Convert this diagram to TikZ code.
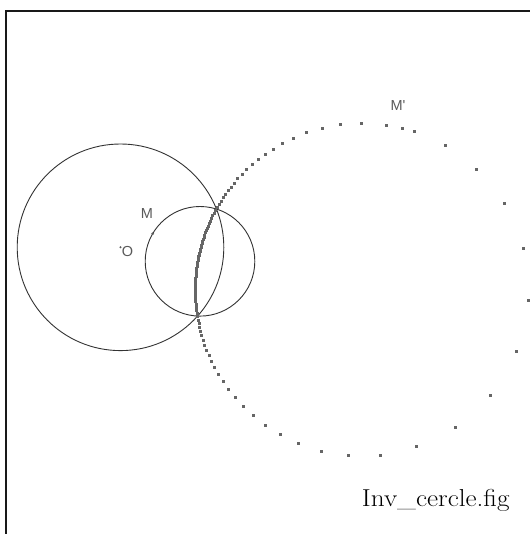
\documentclass[tikz,border=0pt]{standalone}
\usepackage{fontspec}
\newfontfamily\labfont{Liberation Sans}
\begin{document}
\begin{tikzpicture}[x=1pt,y=-1pt]
\definecolor{dotc}{HTML}{666666}
\definecolor{circc}{HTML}{333333}
\definecolor{labc}{HTML}{5A5A5A}
\tikzset{
  frameline/.style={line width=1.4pt, draw=black!90},
  thincircle/.style={line width=0.9pt, draw=circc},
  tracedot/.style={fill=dotc},
  ptlabel/.style={font=\labfont\fontsize{14.5}{17}\selectfont, text=labc, inner sep=0pt},
  filelabel/.style={font=\fontsize{24.5}{29}\selectfont, text=black, inner sep=0pt, anchor=base west}
}
\useasboundingbox (0,0) rectangle (530,534);
\fill[white] (0,0) rectangle (530,534);
% frame (top and left edges)
\coordinate (fbl) at (6,534);
\coordinate (ftl) at (6,11);
\coordinate (ftr) at (530,11);
\draw[frameline] (fbl) -- (ftl) -- (ftr);
% geometry
\def\Ox{120.5}\def\Oy{247.3}
\def\Cx{200}\def\Cy{261.3}
\def\rr{54.8}
\def\RRs{106.71}
\coordinate (O) at (\Ox,\Oy);
\coordinate (C) at (\Cx,\Cy);
\draw[thincircle] (O) circle[radius=103.3];
\draw[thincircle] (C) circle[radius=\rr];
% trace of M'
\foreach \k in {0,...,102}{
  \pgfmathsetmacro\a{0.8+3.5*\k}
  \pgfmathsetmacro\px{\Cx+\rr*cos(\a)}
  \pgfmathsetmacro\py{\Cy-\rr*sin(\a)}
  \pgfmathsetmacro\vx{(\px-\Ox)/10}
  \pgfmathsetmacro\vy{(\py-\Oy)/10}
  \pgfmathsetmacro\s{\RRs/(\vx*\vx+\vy*\vy)}
  \pgfmathsetmacro\qx{\Ox+10*\s*\vx}
  \pgfmathsetmacro\qy{\Oy+10*\s*\vy}
  \fill[tracedot] (\qx-1.5,\qy-1.5) rectangle (\qx+1.5,\qy+1.5);
}
% current M and M'
\pgfmathsetmacro\ma{149.8}
\pgfmathsetmacro\mx{\Cx+\rr*cos(\ma)}
\pgfmathsetmacro\my{\Cy-\rr*sin(\ma)}
\pgfmathsetmacro\wx{(\mx-\Ox)/10}
\pgfmathsetmacro\wy{(\my-\Oy)/10}
\pgfmathsetmacro\t{\RRs/(\wx*\wx+\wy*\wy)}
\pgfmathsetmacro\nx{\Ox+10*\t*\wx}
\pgfmathsetmacro\ny{\Oy+10*\t*\wy}
\coordinate (M) at (\mx,\my);
\coordinate (Mp) at (\nx,\ny);
\fill[tracedot] (\nx-1.5,\ny-1.5) rectangle (\nx+1.5,\ny+1.5);
\fill[labc] (M) circle[radius=1.4];
\fill[labc] (O) circle[radius=1.1];
% labels
\node[ptlabel] (labM) at (147,214) {M};
\node[ptlabel] (labO) at (127.5,252) {O};
\node[ptlabel] (labMp) at (398,105.3) {M\char"27};
\node[filelabel] (file) at (361.7,506.3) {\scalebox{1.11}[1]{Inv\_cercle.fig}};
\end{tikzpicture}
\end{document}
